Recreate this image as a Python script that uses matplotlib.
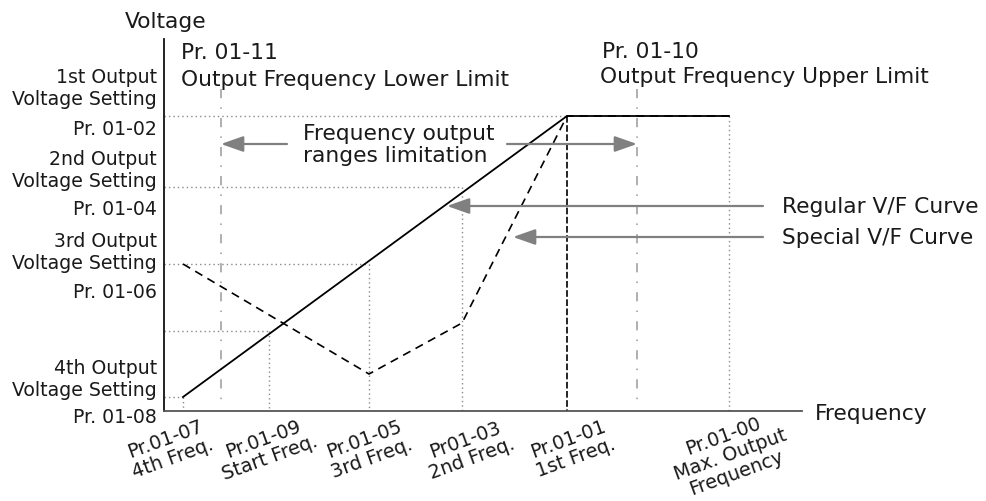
import numpy as np
from matplotlib import pyplot as plt

# frequency settings (axis units, 0 = origin)
f4 = 19        # Pr.01-07 4th Freq.
f_start = 105  # Pr.01-09 Start Freq.
f3 = 205       # Pr.01-05 3rd Freq.
f2 = 298       # Pr01-03 2nd Freq.
f1 = 403       # Pr.01-01 1st Freq.
f_max = 565    # Pr.01-00 Max. Output Frequency
f_low = 57     # Pr.01-11 lower limit
f_up = 473     # Pr.01-10 upper limit

# voltage settings
v1 = 295   # Pr. 01-02
v2 = 224   # Pr. 01-04
v3 = 147   # Pr. 01-06
v4 = 14    # Pr. 01-08
v_start = 80

regular_x = [f4, f1, f_max]
regular_y = [v4, v1, v1]
special_x = [f4, f3, f2, f1, f_max]
special_y = [v3, 37, 88, v1, v1]

tick_pos = [f4, f_start, f3, f2, f1, f_max]
tick_labels = ["Pr.01-07\n4th Freq.", "Pr.01-09\nStart Freq.", "Pr.01-05\n3rd Freq.",
               "Pr01-03\n2nd Freq.", "Pr.01-01\n1st Freq.", "Pr.01-00\nMax. Output\nFrequency"]
tick_shift = [-14, -2, -1, 7, 5, 1]

ylab_pos = [323, 282, 241, 202, 159, 119, 32, -6]
ylab_text = ["1st Output\nVoltage Setting", "Pr. 01-02", "2nd Output\nVoltage Setting", "Pr. 01-04",
             "3rd Output\nVoltage Setting", "Pr. 01-06", "4th Output\nVoltage Setting", "Pr. 01-08"]

plt.rcParams['font.family'] = ['DejaVu Sans']
fig = plt.figure(figsize=(9.87, 5.02), dpi=100)
ax = fig.add_axes([164 / 987, 90 / 502, 638 / 987, 372 / 502])
ax.set_xlim(0, 638)
ax.set_ylim(0, 372)
ax.set_xticks([])
ax.set_yticks([])
for s in ['top', 'right']:
    ax.spines[s].set_visible(False)
ax.spines['left'].set_color('#111111')
ax.spines['left'].set_linewidth(1.3)
ax.spines['bottom'].set_color('#555555')
ax.spines['bottom'].set_linewidth(1.3)

grey = '#8a8a8a'
dot = dict(color=grey, lw=1.0, linestyle=(0, (1, 2.2)))
# dotted guides
for fx, vy in [(f1, v1), (f2, v2), (f3, v3), (f_start, v_start), (f4, v4)]:
    ax.plot([0, fx], [vy, vy], **dot)
for fx, vy in [(f_max, v1), (f2, v2), (f3, v3), (f_start, v_start), (f4, v4)]:
    ax.plot([fx, fx], [vy, 0], **dot)
ax.plot([f1, f1], [v1, 0], color='black', lw=1.2, linestyle=(0, (4, 1.5)))

# lower / upper limit lines
for fx in [f_low, f_up]:
    ax.plot([fx, fx], [322, 8], color='#9a9a9a', lw=1.1, linestyle=(0, (6, 6, 1, 6)))

ax.plot(special_x, special_y, color='black', lw=1.2, linestyle=(0, (5, 3.5)))
ax.plot(regular_x, regular_y, color='black', lw=1.3)

aprops = dict(arrowstyle='-|>,head_length=0.85,head_width=0.3', color='#808080', lw=1.6,
              mutation_scale=16, shrinkA=0, shrinkB=0)
ax.annotate('', xy=(f_low, 267), xytext=(123, 267), arrowprops=aprops, annotation_clip=False)
ax.annotate('', xy=(f_up, 267), xytext=(343, 267), arrowprops=aprops, annotation_clip=False)
ax.annotate('', xy=(283, 205), xytext=(599, 205), arrowprops=aprops, annotation_clip=False)
ax.annotate('', xy=(349, 174), xytext=(599, 174), arrowprops=aprops, annotation_clip=False)

big = 15.7
tc = '#1a1a1a'
ax.text(2, 390, "Voltage", fontsize=big, ha='center', va='center', color=tc, clip_on=False)
ax.text(17, 359, "Pr. 01-11", fontsize=big, ha='left', va='center', color=tc)
ax.text(17, 332, "Output Frequency Lower Limit", fontsize=big, ha='left', va='center', color=tc)
ax.text(438, 360, "Pr. 01-10", fontsize=big, ha='left', va='center', color=tc)
ax.text(436, 335, "Output Frequency Upper Limit", fontsize=big, ha='left', va='center', color=tc)
ax.text(139, 267, "Frequency output\nranges limitation", fontsize=big, ha='left', va='center',
        color=tc, linespacing=1.15)
ax.text(618, 205, "Regular V/F Curve", fontsize=big, ha='left', va='center', color=tc, clip_on=False)
ax.text(618, 174, "Special V/F Curve", fontsize=big, ha='left', va='center', color=tc, clip_on=False)
ax.text(651, -2, "Frequency", fontsize=big, ha='left', va='center', color=tc, clip_on=False)

for yv, t in zip(ylab_pos, ylab_text):
    ax.text(-7, yv, t, fontsize=13.6, ha='right', va='center', multialignment='right',
            color=tc, clip_on=False, linespacing=1.2)

for xv, t, d in zip(tick_pos, tick_labels, tick_shift):
    yv = -43 if t.count("\n") == 2 else -37
    ax.text(xv + d, yv, t, fontsize=13.8, ha='center', va='center', rotation=20,
            rotation_mode='anchor', multialignment='center', color=tc, clip_on=False,
            linespacing=1.05)

plt.savefig('out.png', dpi=100)
